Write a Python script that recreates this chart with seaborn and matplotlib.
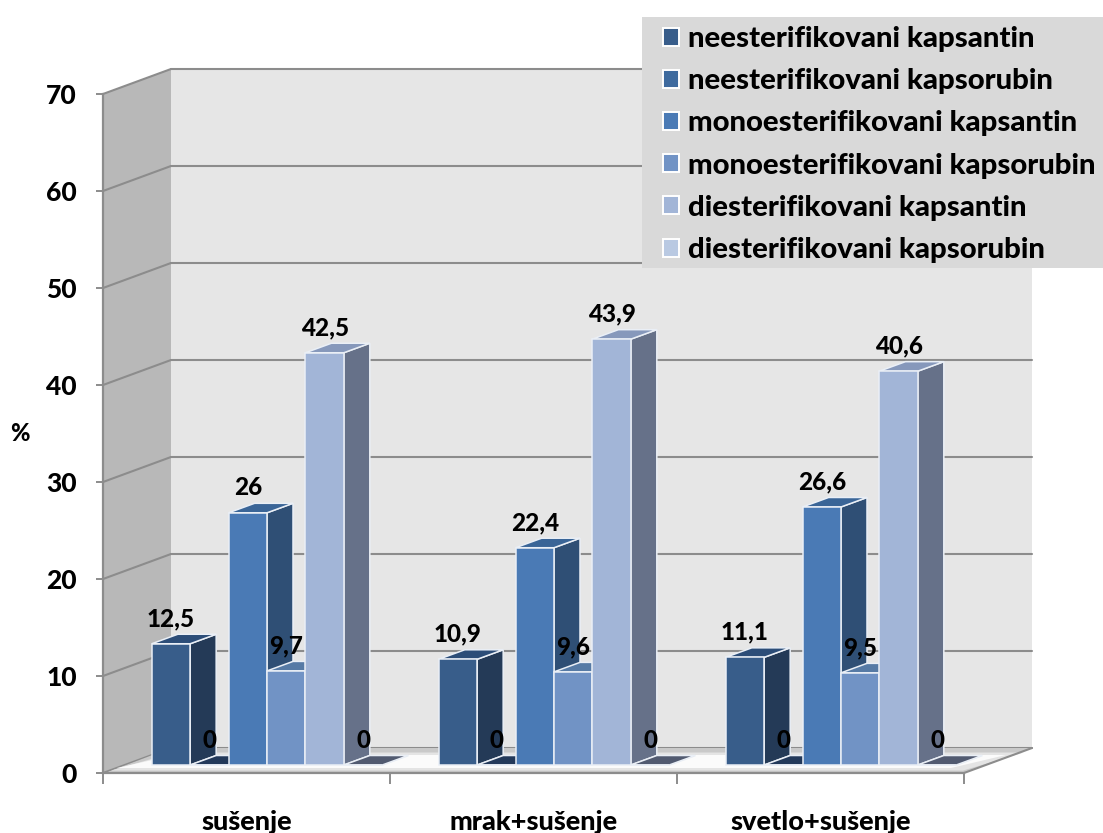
import matplotlib
matplotlib.use("Agg")
import matplotlib.pyplot as plt
from matplotlib.patches import Polygon, Patch, Rectangle
import pandas as pd
import seaborn as sns

categories = ["sušenje", "mrak+sušenje", "svetlo+sušenje"]
pigments = ["neesterifikovani kapsantin", "neesterifikovani kapsorubin",
            "monoesterifikovani kapsantin", "monoesterifikovani kapsorubin",
            "diesterifikovani kapsantin", "diesterifikovani kapsorubin"]
neest_kapsantin = [12.5, 10.9, 11.1]
neest_kapsorubin = [0, 0, 0]
mono_kapsantin = [26, 22.4, 26.6]
mono_kapsorubin = [9.7, 9.6, 9.5]
di_kapsantin = [42.5, 43.9, 40.6]
di_kapsorubin = [0, 0, 0]
series = [neest_kapsantin, neest_kapsorubin, mono_kapsantin,
          mono_kapsorubin, di_kapsantin, di_kapsorubin]

front_colors = ["#385d8a", "#3e6a9e", "#4a7ab5", "#7193c5", "#a2b5d7", "#b9c9e2"]
side_colors = ["#243a57", "#243a57", "#2f4f75", "#4a6288", "#667189", "#7a8499"]
top_colors = ["#2c4d78", "#23395a", "#3a6597", "#567aa5", "#8698bb", "#515a70"]

sns.set_style("white")
WEIGHT = 900
plt.rcParams["font.family"] = ["Lato", "DejaVu Sans"]
plt.rcParams["font.weight"] = WEIGHT
plt.rcParams["text.color"] = "black"
plt.rcParams["xtick.labelcolor"] = "black"
plt.rcParams["ytick.labelcolor"] = "black"
plt.rcParams["axes.labelcolor"] = "black"

W, H = 1103, 833
fig = plt.figure(figsize=(W / 100, H / 100), dpi=100, facecolor="white")
ax = fig.add_axes([103 / W, (H - 773) / H, 861 / W, 679 / H])

GREY = "#8c8c8c"
PX = 1 / 287          # data units per pixel, x
PY = 1 / 9.7          # data units per pixel, y
WX, WY = 68 * PX, 25 * PY    # depth of the chart box
BX, BY = 26 * PX, 9.5 * PY   # depth of one bar
SX, SY = 20.5 * PX, 8 * PY   # bar row position inside the box

df = pd.DataFrame({
    "category": [c for c in categories for _ in pigments],
    "pigment": pigments * 3,
    "value": [s[i] for i in range(3) for s in series],
})
df["category"] = pd.Categorical(df["category"], categories)
df["pigment"] = pd.Categorical(df["pigment"], pigments)

sns.barplot(data=df, x="category", y="value", hue="pigment", palette=front_colors,
            hue_order=pigments, order=categories, width=0.803, gap=0, legend=False,
            errorbar=None, ax=ax, saturation=1)
ax.set_xlim(-0.5, 2.5)
ax.set_ylim(0, 70)

x0, x1 = -0.5, 2.5
def poly(pts, fc, z, ec="none", lw=0):
    ax.add_patch(Polygon(pts, closed=True, facecolor=fc, edgecolor=ec, linewidth=lw,
                         zorder=z, clip_on=False))

bars = sorted([p for p in ax.patches], key=lambda p: p.get_x())

# chart box: back wall, side wall, floor
poly([(x0 + WX, WY), (x1 + WX, WY), (x1 + WX, 70 + WY), (x0 + WX, 70 + WY)], "#e6e6e6", 0.1)
poly([(x0, 0), (x0 + WX, WY), (x0 + WX, 70 + WY), (x0, 70)], "#b8b8b8", 0.1)

for v in range(0, 71, 10):
    ax.plot([x0 + WX, x1 + WX], [v + WY, v + WY], color=GREY, lw=1.5, zorder=0.2, clip_on=False)
    ax.plot([x0, x0 + WX], [v, v + WY], color=GREY, lw=1.5, zorder=0.2, clip_on=False)

poly([(x0 + 2 * PX, 0), (x1, 0), (x1 + WX, WY), (x0 + WX, WY)], "#c9c9c9", 0.3)
poly([(x0 + 8 * PX, 0.25), (x1 - 1 * PX, 0.25), (x1 + 60 * PX, WY - 4.5 * PY),
      (x0 + WX + 3 * PX, WY - 4.5 * PY)], "#e4e4e4", 0.31)
poly([(x0 + 14 * PX, 5 * PY), (x1 - 13 * PX, 5 * PY), (x1 + 42 * PX, WY - 7 * PY),
      (x0 + WX + 3 * PX, WY - 7 * PY)], "#fbfbfb", 0.32)
ax.plot([x1, x1 + WX], [0, WY], color=GREY, lw=1.5, zorder=0.33, clip_on=False)

# bars: seaborn fronts, moved into the box, with side and top faces
for i, p in enumerate(bars):
    k = i % 6
    p.set_x(p.get_x() + SX)
    p.set_y(SY)
    x, w, h = p.get_x(), p.get_width(), p.get_height()
    z = 1 + i * 0.01
    edge = "#eaeff6"
    poly([(x + w, SY), (x + w + BX, SY + BY), (x + w + BX, SY + BY + h), (x + w, SY + h)],
         side_colors[k], z, ec=edge, lw=1.1)
    poly([(x, SY + h), (x + w, SY + h), (x + w + BX, SY + BY + h), (x + BX, SY + BY + h)],
         top_colors[k], z + 0.001, ec=edge, lw=1.1)
    p.set_edgecolor(edge)
    p.set_linewidth(1.1)
    p.set_zorder(z + 0.002)
    p.set_clip_on(False)
    label = f"{h:g}".replace(".", ",")
    ax.annotate(label, (x + w / 2, SY + h), xytext=(0, 25 * 0.72), textcoords="offset points",
                ha="center", va="center", fontsize=17.5, fontweight=WEIGHT, color="black",
                zorder=5)

# axes
for s in ["top", "right"]:
    ax.spines[s].set_visible(False)
for s in ["left", "bottom"]:
    ax.spines[s].set_visible(True)
    ax.spines[s].set_color(GREY)
    ax.spines[s].set_linewidth(1.6)
    ax.spines[s].set_zorder(0.4)
ax.patch.set_visible(False)
ax.set_yticks(range(0, 71, 10))
ax.tick_params(axis="y", length=5, width=1.4, color=GREY, labelsize=19, pad=14, left=True)
ax.set_xticks([-0.5, 0.5, 1.5, 2.5])
ax.set_xticklabels([])
ax.tick_params(axis="x", which="major", length=8, width=1.4, color=GREY, bottom=True)
ax.set_xticks([0, 1, 2], minor=True)
ax.set_xticklabels(categories, minor=True)
ax.tick_params(axis="x", which="minor", length=0, labelsize=19.5, pad=27)
ax.set_xlabel("")
ax.set_ylabel("%", rotation=0, fontsize=17, fontweight=WEIGHT, va="center", ha="center")
ax.yaxis.set_label_coords((20 - 103) / 861, 0.5)
for t in ax.get_yticklabels() + ax.get_xticklabels(minor=True):
    t.set_fontweight(WEIGHT)

# legend on its grey panel
ax.add_patch(Rectangle((642 / W, (H - 268) / H), 461 / W, 251 / H, transform=fig.transFigure,
                       facecolor="#d9d9d9", edgecolor="none", zorder=9, clip_on=False))
handles = [Patch(facecolor=c, edgecolor="white", linewidth=1.4) for c in front_colors]
LEG = 21.2
leg = ax.legend(handles, pigments, loc="upper left",
                bbox_to_anchor=(663 / W, (H - 26) / H), bbox_transform=fig.transFigure,
                fontsize=LEG, frameon=False, borderaxespad=0, borderpad=0,
                labelspacing=0.55, handlelength=0.56, handleheight=0.56, handletextpad=0.3)
leg.set_zorder(10)
for t in leg.get_texts():
    t.set_fontweight(WEIGHT)

fig.savefig("out.png", dpi=100, facecolor="white")
